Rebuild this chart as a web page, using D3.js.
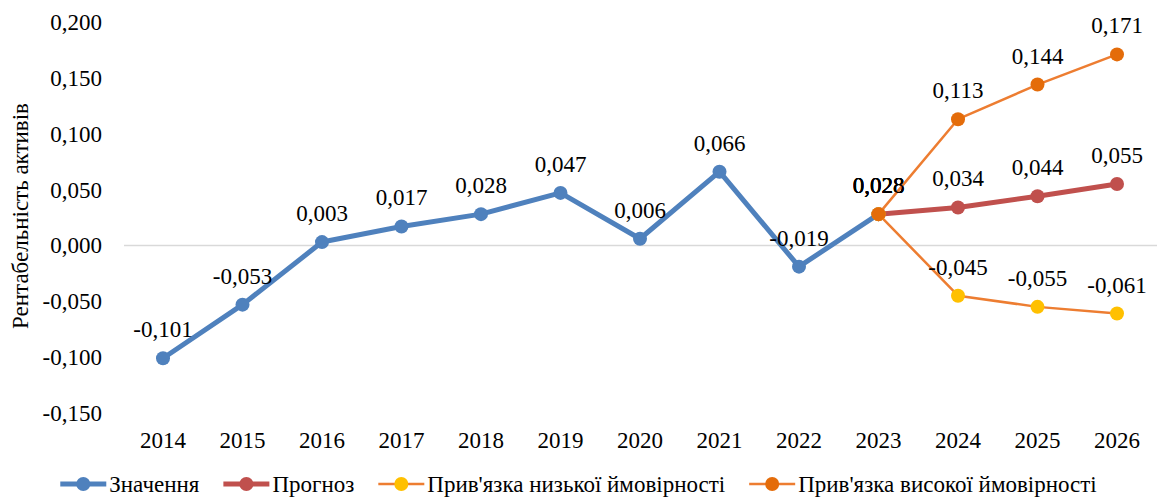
<!DOCTYPE html>
<html>
  <head>
    <meta charset="utf-8">
    <title>Рентабельність активів</title>
    <script src="https://cdn.jsdelivr.net/npm/d3@7"></script>
    <style>
      body { margin: 0; background: white; }
      svg { background-color: white; display: block; }
      svg text { font-family: 'Liberation Serif', 'Times New Roman', Times, 'DejaVu Serif', serif; fill: #000; font-size: 23px; }
    </style>
  </head>
  <body>
    <svg></svg>
    <script>
      // data
      var years = [2014, 2015, 2016, 2017, 2018, 2019, 2020, 2021, 2022, 2023, 2024, 2025, 2026];
      var actualYears = [2014, 2015, 2016, 2017, 2018, 2019, 2020, 2021, 2022, 2023];
      var actualValues = [-0.101, -0.053, 0.003, 0.017, 0.028, 0.047, 0.006, 0.066, -0.019, 0.028];
      var forecastYears = [2023, 2024, 2025, 2026];
      var forecastValues = [0.028, 0.034, 0.044, 0.055];
      var lowValues = [0.028, -0.045, -0.055, -0.061];
      var highValues = [0.028, 0.113, 0.144, 0.171];
      var yTicks = [-0.15, -0.1, -0.05, 0, 0.05, 0.1, 0.15, 0.2];
      var seriesNames = ["Значення", "Прогноз", "Прив'язка низької ймовірності", "Прив'язка високої ймовірності"];
      var yTitle = "Рентабельність активів";

      // layout
      var svgWidth = 1157, svgHeight = 500;
      var series = [
        {name: seriesNames[0], x: actualYears, y: actualValues, line: "#4F81BD", marker: "#4F81BD", width: 5},
        {name: seriesNames[1], x: forecastYears, y: forecastValues, line: "#C0504D", marker: "#C0504D", width: 5},
        {name: seriesNames[2], x: forecastYears, y: lowValues, line: "#ED7D31", marker: "#FFC000", width: 2.5},
        {name: seriesNames[3], x: forecastYears, y: highValues, line: "#ED7D31", marker: "#E46C0A", width: 2.5}
      ];

      var svg = d3.select("svg").attr("width", svgWidth).attr("height", svgHeight);

      var x = d3.scalePoint().domain(years).range([163, 1117]);
      var y = d3.scaleLinear().domain([-0.15, 0.2]).range([413, 22]);

      function fmt(v) {
        return d3.format(".3f")(v).replace("−", "-").replace(".", ",");
      }

      // zero line
      svg.append("line")
        .attr("x1", 124).attr("x2", svgWidth)
        .attr("y1", y(0)).attr("y2", y(0))
        .attr("stroke", "#D9D9D9").attr("stroke-width", 1.5);

      // y tick labels
      svg.append("g").selectAll("text")
        .data(yTicks)
        .enter().append("text")
          .attr("x", 102)
          .attr("y", function(d){ return y(d); })
          .attr("dy", "0.35em")
          .attr("text-anchor", "end")
          .text(fmt);

      // x tick labels
      svg.append("g").selectAll("text")
        .data(years)
        .enter().append("text")
          .attr("x", function(d){ return x(d); })
          .attr("y", 440)
          .attr("dy", "0.35em")
          .attr("text-anchor", "middle")
          .text(function(d){ return d; });

      // y title
      svg.append("text")
        .attr("transform", "translate(20,216) rotate(-90)")
        .attr("dy", "0.35em")
        .attr("text-anchor", "middle")
        .text(yTitle);

      var line = d3.line()
        .x(function(d){ return x(d[0]); })
        .y(function(d){ return y(d[1]); });

      series.forEach(function(s) {
        var pts = s.x.map(function(yr, i){ return [yr, s.y[i]]; });
        var g = svg.append("g");
        g.append("path")
          .attr("d", line(pts))
          .attr("fill", "none")
          .attr("stroke", s.line)
          .attr("stroke-width", s.width)
          .attr("stroke-linejoin", "round");
        g.selectAll("circle")
          .data(pts)
          .enter().append("circle")
            .attr("cx", function(d){ return x(d[0]); })
            .attr("cy", function(d){ return y(d[1]); })
            .attr("r", 7)
            .attr("fill", s.marker);
        g.selectAll("text")
          .data(pts)
          .enter().append("text")
            .attr("x", function(d){ return x(d[0]); })
            .attr("y", function(d){ return y(d[1]) - 29; })
            .attr("dy", "0.35em")
            .attr("text-anchor", "middle")
            .text(function(d){ return fmt(d[1]); });
      });

      // legend: items laid out one after another, shrunk to fit the width
      var legend = svg.append("g").attr("transform", "translate(0,484)");
      var items = series.map(function(s) {
        var lg = legend.append("g");
        lg.append("line")
          .attr("x1", 0).attr("x2", 46)
          .attr("y1", 0).attr("y2", 0)
          .attr("stroke", s.line)
          .attr("stroke-width", s.width);
        lg.append("circle")
          .attr("cx", 23).attr("cy", 0).attr("r", 7)
          .attr("fill", s.marker);
        var t = lg.append("text")
          .attr("x", 49)
          .attr("dy", "0.35em")
          .text(s.name);
        return {g: lg, t: t};
      });
      var fs = 23, gap = 24, total;
      function measure() {
        total = 0;
        items.forEach(function(it, i) {
          it.w = 49 + it.t.node().getComputedTextLength();
          total += it.w + (i ? gap : 0);
        });
      }
      measure();
      while (total > 1120 && fs > 14) {
        fs -= 0.5;
        items.forEach(function(it){ it.t.style("font-size", fs + "px"); });
        measure();
      }
      var lx = Math.max(4, (svgWidth - total) / 2);
      items.forEach(function(it) {
        it.g.attr("transform", "translate(" + lx + ",0)");
        lx += it.w + gap;
      });
    </script>
  </body>
</html>
